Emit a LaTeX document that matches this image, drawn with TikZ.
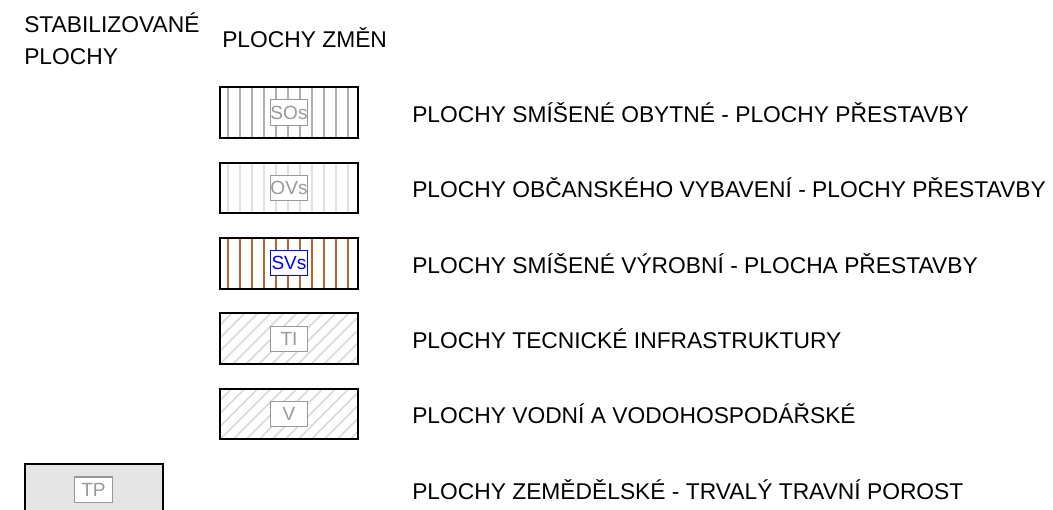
\documentclass[tikz,border=0pt]{standalone}
\usepackage{fontspec}
\setmainfont{Liberation Sans}
\usepackage{xcolor}
\definecolor{StripeGrey}{HTML}{B0B0B0}
\definecolor{PaleGrey}{HTML}{E0E0E0}
\definecolor{HatchGrey}{HTML}{D9D9D9}
\definecolor{Rust}{HTML}{BA6530}
\definecolor{TagGrey}{HTML}{999999}
\definecolor{FieldGrey}{HTML}{E5E5E5}
\newcommand\BoxW{103.5pt}
\newcommand\BoxH{38pt}
\newcommand\ColX{289}
\newcommand\RowSep{75.4}
\tikzstyle{legend}=[rectangle,draw=black,line width=1.5pt,
                    minimum width=\BoxW,minimum height=\BoxH]
\tikzstyle{stripes}=[path picture={
      \foreach \k in {1,...,11}
         \fill[#1]
            ([xshift=-4pt+9pt*\k]path picture bounding box.north west)
            rectangle ([xshift=-2pt+9pt*\k]path picture bounding box.south west);}]
\tikzstyle{hatch}=[path picture={
      \foreach \k in {-4,...,11}
         \draw[HatchGrey,line width=1.2pt]
            ([xshift=9.75pt*\k]path picture bounding box.south west)
            -- ++(45:60pt);}]
\tikzstyle{tag}=[rectangle,draw=TagGrey,fill=white,text=TagGrey,line width=0.8pt,
                 inner sep=0pt,minimum width=28.2pt,minimum height=18.8pt,
                 font=\fontsize{14.3}{17}\selectfont]
\tikzstyle{caption}=[anchor=west,inner sep=0pt]
\begin{document}
\begin{tikzpicture}[x=0.75pt,y=-0.75pt,font=\fontsize{17.1}{20}\selectfont]
      \useasboundingbox (0,0) rectangle (1053,510);
      % headers
      \node[caption,align=left,font=\fontsize{17.1}{24}\selectfont] (stab) at (24,38.5) {STABILIZOVANÉ\\PLOCHY};
      \node[caption] (zmen) at (222,38) {PLOCHY ZMĚN};
      % legend boxes
      \node[legend,stripes=StripeGrey] (sos) at (\ColX,112.5+\RowSep*0) {};
      \node[legend,stripes=PaleGrey] (ovs) at (\ColX,112.5+\RowSep*1) {};
      \node[legend,stripes=Rust] (svs) at (\ColX,112.5+\RowSep*2) {};
      \node[legend,hatch] (ti) at (\ColX,112.5+\RowSep*3) {};
      \node[legend,hatch] (v) at (\ColX,112.5+\RowSep*4) {};
      \node[legend,fill=FieldGrey] (tp) at (93.5,489.5) {};
      % tags
      \node[tag] (sostag) at (sos) {SOs};
      \node[tag] (ovstag) at (ovs) {OVs};
      \node[tag,draw=blue,text=blue] (svstag) at (svs) {SVs};
      \node[tag] (titag) at (ti) {TI};
      \node[tag] (vtag) at (v) {V};
      \node[tag] (tptag) at (tp) {TP};
      % captions
      \node[caption] (soscap) at (412,112.5+\RowSep*0) {PLOCHY SMÍŠENÉ OBYTNÉ - PLOCHY PŘESTAVBY};
      \node[caption] (ovscap) at (412,112.5+\RowSep*1) {PLOCHY OBČANSKÉHO VYBAVENÍ - PLOCHY PŘESTAVBY};
      \node[caption] (svscap) at (412,112.5+\RowSep*2) {PLOCHY SMÍŠENÉ VÝROBNÍ - PLOCHA PŘESTAVBY};
      \node[caption] (ticap) at (412,112.5+\RowSep*3) {PLOCHY TECNICKÉ INFRASTRUKTURY};
      \node[caption] (vcap) at (412,112.5+\RowSep*4) {PLOCHY VODNÍ A VODOHOSPODÁŘSKÉ};
      \node[caption] (tpcap) at (412,489.5) {PLOCHY ZEMĚDĚLSKÉ - TRVALÝ TRAVNÍ POROST};
   \end{tikzpicture}
\end{document}
